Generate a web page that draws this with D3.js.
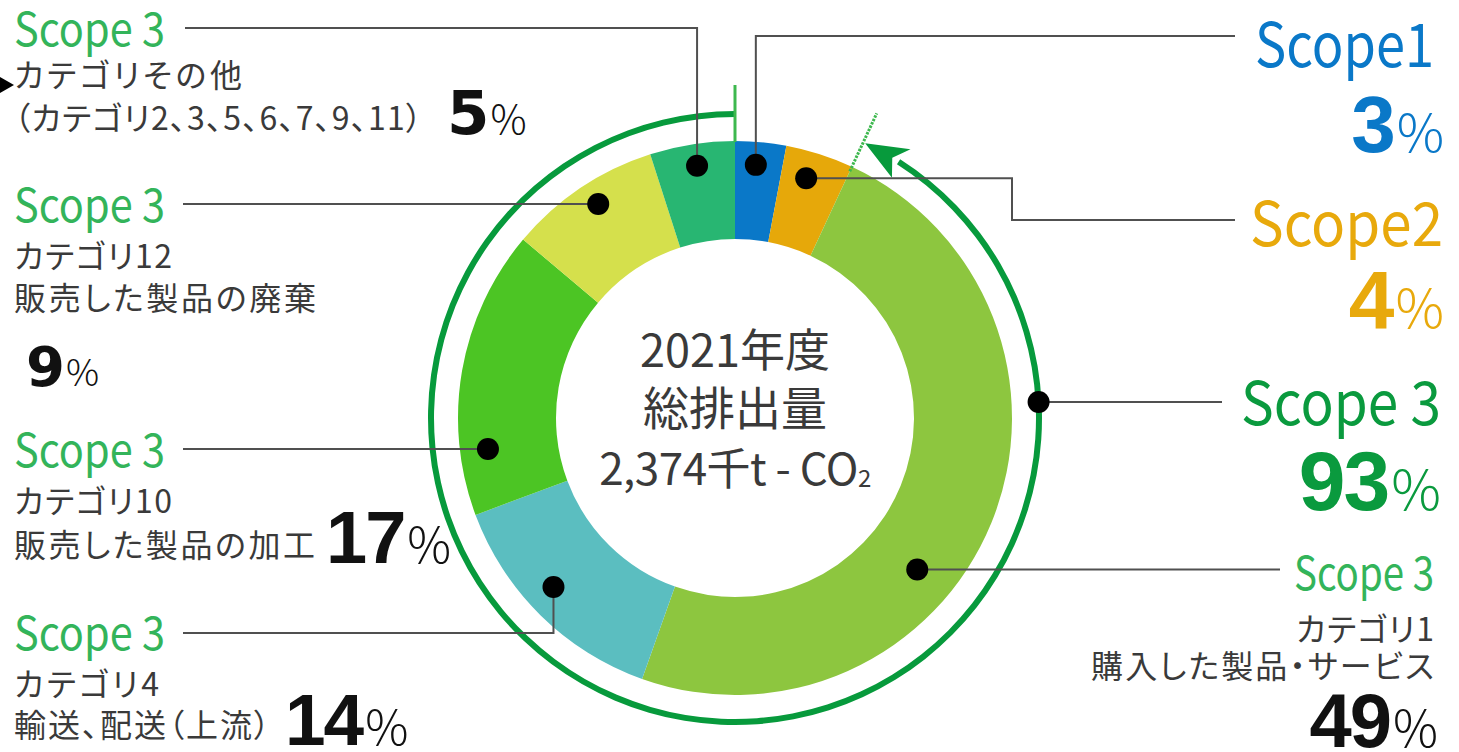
<!DOCTYPE html>
<html><head><meta charset="utf-8">
<script src="https://cdn.jsdelivr.net/npm/d3@7"></script>
<style>
html,body{margin:0;padding:0;background:#fff;}
svg{display:block;}
.palt{font-feature-settings:"palt" 1;}
</style></head><body>
<svg id="chart" width="1459" height="752"></svg>
<script>
// ---------------- data ----------------
const categories = ["Scope1", "Scope2", "Scope3 カテゴリ1", "Scope3 カテゴリ4", "Scope3 カテゴリ10", "Scope3 カテゴリ12", "Scope3 カテゴリその他"];
const values = [3, 4, 49, 14, 17, 9, 5];
const scope3Total = 93;
const centerLines = ["2021年度", "総排出量"];
const totalValue = "2,374";
const totalUnit = "千t - CO";
const scopeNames = ["Scope1", "Scope2", "Scope 3"];
const categoryLines = [
  null, null,
  ["カテゴリ1", "購入した製品・サービス"],
  ["カテゴリ4", "輸送、配送（上流）"],
  ["カテゴリ10", "販売した製品の加工"],
  ["カテゴリ12", "販売した製品の廃棄"],
  ["カテゴリその他", "（カテゴリ2、3、5、6、7、9、11）"]
];

// ---------------- styles ----------------
const colors = ["#0a78c8", "#e6a80a", "#8dc63f", "#5bbec0", "#4cc524", "#d5e04c", "#28b672"];
const JP = "'Noto Sans CJK JP','Noto Sans',sans-serif";
const NUM = "'Liberation Sans',Arial,sans-serif";
const NUMW = "'DejaVu Sans',sans-serif";
const GRAY = "#3a3a3a";
const LINE = "#505050";
const GREEN_LIGHT = "#33b45a";
const GREEN_DARK = "#0a9a3e";
const RING = "#079a3c";

const svg = d3.select("#chart");
svg.append("rect").attr("width", 1459).attr("height", 752).attr("fill", "#fff");

const cx = 735, cy = 418;
const rIn = 179, rOut = 277, rRing = 304;
const deg = Math.PI / 180;

const pie = d3.pie().sort(null).value(d => d);
const arcs = pie(values);
const arc = d3.arc().innerRadius(rIn).outerRadius(rOut);

const g = svg.append("g").attr("transform", `translate(${cx},${cy})`);
g.selectAll("path.seg").data(arcs).join("path")
  .attr("class", "seg").attr("d", arc).attr("fill", (d, i) => colors[i]);

const polar = (a, r) => [cx + r * Math.sin(a), cy - r * Math.cos(a)];

// ---------------- Scope3 ring with arrow ----------------
const s3Start = arcs[2].startAngle;
const tipA = s3Start + 0.4 * deg, baseA = s3Start + 8.2 * deg;
const ringArc = d3.arc().innerRadius(rRing - 3).outerRadius(rRing + 3)
  .startAngle(baseA - 0.6 * deg).endAngle(2 * Math.PI);
g.append("path").attr("d", ringArc()).attr("fill", RING);
const tip = polar(tipA, rRing), b1 = polar(baseA, rRing - 17), b2 = polar(baseA, rRing + 17), bm = polar(baseA - 2 * deg, rRing);
svg.append("path").attr("d", `M${tip}L${b1}L${bm}L${b2}Z`).attr("fill", RING);
// tick marks at Scope3 boundaries
const t0a = polar(0, rOut - 1), t0b = polar(0, rRing + 29);
svg.append("line").attr("x1", t0a[0]).attr("y1", t0a[1]).attr("x2", t0b[0]).attr("y2", t0b[1])
  .attr("stroke", "#3db84e").attr("stroke-width", 3);
const t1a = polar(s3Start, rOut - 5), t1b = polar(s3Start, rRing + 32);
svg.append("line").attr("x1", t1a[0]).attr("y1", t1a[1]).attr("x2", t1b[0]).attr("y2", t1b[1])
  .attr("stroke", "#3db84e").attr("stroke-width", 3).attr("stroke-dasharray", "2.5,1.2");

// ---------------- leader lines & dots ----------------
const dotAt = (i, t, r) => {
  const a = arcs[i].startAngle + t * (arcs[i].endAngle - arcs[i].startAngle);
  return polar(a, r);
};
const dots = [
  dotAt(0, 0.44, 254),
  dotAt(1, 0.41, 250),
  dotAt(2, 0.60, 237),
  dotAt(3, 0.55, 248),
  dotAt(4, 0.22, 249),
  dotAt(5, 0.54, 254),
  dotAt(6, 0.52, 255)
];
const ringDot = polar(87 * deg, rRing);

const leaders = [
  [dots[0], [dots[0][0], 36], [1235, 36]],
  [dots[1], [1012, dots[1][1]], [1012, 220], [1235, 220]],
  [dots[2], [1280, dots[2][1]]],
  [dots[3], [dots[3][0], 633], [183, 633]],
  [dots[4], [183, dots[4][1]]],
  [dots[5], [183, dots[5][1]]],
  [dots[6], [dots[6][0], 28], [185, 28]],
  [ringDot, [1222, ringDot[1]]]
];
const lineGen = d3.line();
svg.selectAll("path.leader").data(leaders).join("path")
  .attr("class", "leader").attr("d", lineGen).attr("fill", "none")
  .attr("stroke", LINE).attr("stroke-width", 2);
svg.selectAll("circle.dot").data(dots.concat([ringDot])).join("circle")
  .attr("class", "dot").attr("cx", d => d[0]).attr("cy", d => d[1]).attr("r", 11).attr("fill", "#000");

// small cropped arrow at the left edge
svg.append("path").attr("d", "M0,77L14,85L0,93Z").attr("fill", "#000");

// ---------------- center text ----------------
const ct = svg.append("g").attr("font-family", JP).attr("fill", GRAY).attr("text-anchor", "middle");
ct.append("text").attr("x", cx).attr("y", 367).attr("font-size", 45).text(centerLines[0]);
ct.append("text").attr("x", cx).attr("y", 425).attr("font-size", 46).text(centerLines[1]);
const t3 = ct.append("text").attr("x", cx).attr("y", 485).attr("font-size", 44).attr("letter-spacing", -0.5);
t3.append("tspan").text(totalValue + totalUnit);
t3.append("tspan").attr("font-size", 24).attr("dy", 2).text("2");

// ---------------- labels ----------------
function label(x, y, str, size, fill, opts = {}) {
  const t = svg.append("text").attr("x", x).attr("y", y).attr("font-family", opts.family || JP)
    .attr("font-size", size).attr("fill", fill).attr("text-anchor", opts.anchor || "start");
  if (opts.palt) t.attr("class", "palt");
  if (opts.len) t.attr("textLength", opts.len).attr("lengthAdjust", opts.adjust || "spacing");
  t.text(str);
  return t;
}
function pct(x, y, num, size, fill, anchor, family) {
  const t = svg.append("text").attr("x", x).attr("y", y).attr("fill", fill).attr("text-anchor", anchor || "start");
  t.append("tspan").attr("font-family", family || NUM).attr("font-weight", 700).attr("font-size", size).attr("letter-spacing", -2).text(num);
  t.append("tspan").attr("font-family", JP).attr("font-weight", 300).attr("font-size", size * 0.66).attr("dx", 3).text("%");
  return t;
}

// left side
const leftBlocks = [
  {i: 6, y: [46, 87, 130], w: [228, 408], px: 447, py: 134, ps: 61, fam: NUMW},
  {i: 5, y: [222, 268, 310], w: [158, 302], px: 26, py: 386, ps: 56, fam: NUMW},
  {i: 4, y: [467, 513, 557], w: [158, 301], px: 326, py: 563, ps: 74, fam: NUM},
  {i: 3, y: [650, 696, 737], w: [145, 256], px: 285, py: 745, ps: 73, fam: NUM}
];
leftBlocks.forEach(b => {
  label(14, b.y[0], scopeNames[2], 46, GREEN_LIGHT, {len: 151, adjust: "spacingAndGlyphs"});
  label(14, b.y[1], categoryLines[b.i][0], 32, GRAY, {len: b.w[0], palt: true});
  label(14, b.y[2], categoryLines[b.i][1], 32, GRAY, {len: b.w[1], palt: true});
  pct(b.px, b.py, String(values[b.i]), b.ps, "#111", "start", b.fam);
});

// right side
label(1434, 67, scopeNames[0], 61, colors[0], {anchor: "end", len: 179, adjust: "spacingAndGlyphs"});
pct(1444, 152, String(values[0]), 80, colors[0], "end");
label(1443, 246, scopeNames[1], 61, "#e8a90c", {anchor: "end", len: 193, adjust: "spacingAndGlyphs"});
pct(1444, 328, String(values[1]), 82, "#e8a90c", "end");
label(1441, 425, scopeNames[2], 60, GREEN_DARK, {anchor: "end", len: 200, adjust: "spacingAndGlyphs"});
pct(1441, 510, String(scope3Total), 84, GREEN_DARK, "end");
label(1434, 590, scopeNames[2], 46, GREEN_LIGHT, {anchor: "end", len: 140, adjust: "spacingAndGlyphs"});
label(1434, 641, categoryLines[2][0], 32, GRAY, {anchor: "end", len: 138, palt: true});
label(1434, 678, categoryLines[2][1], 32, GRAY, {anchor: "end", len: 343, palt: true});
pct(1438, 747, String(values[2]), 76, "#111", "end");
</script>
</body></html>
